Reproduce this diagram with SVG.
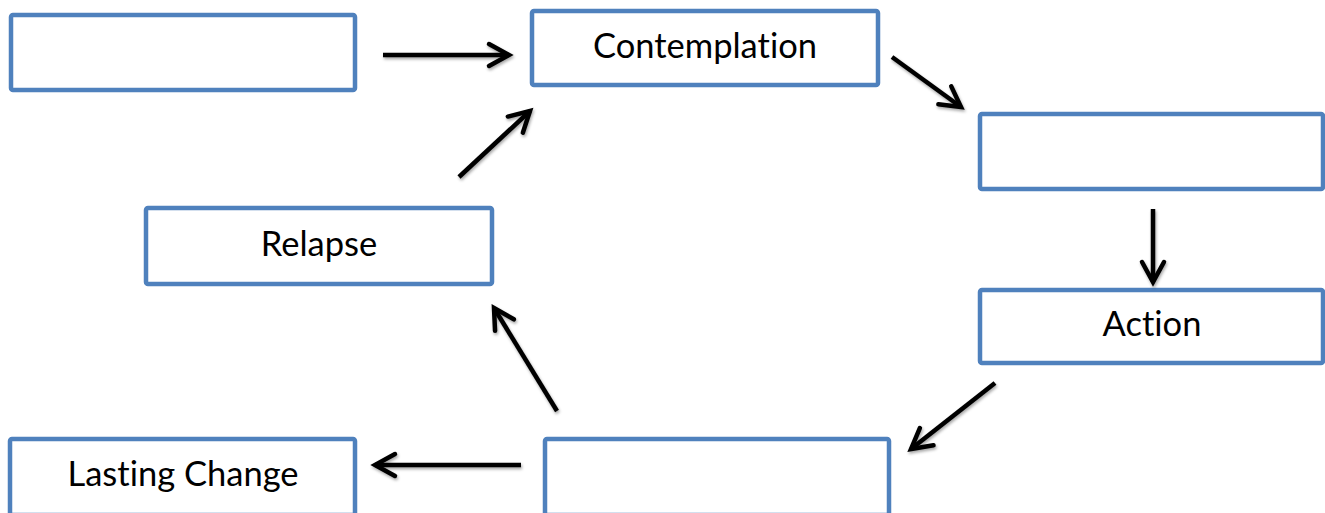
<svg xmlns="http://www.w3.org/2000/svg" width="1325" height="513" viewBox="0 0 1325 513">
<style>
.box{fill:#fff;stroke:#4f81bd;stroke-width:4.5}
.lbl{font-family:Lato,"Liberation Sans",sans-serif;font-size:34.5px;fill:#000;text-anchor:middle;font-variant-ligatures:none}
.arr{stroke:#000;stroke-width:4.5;fill:none;marker-end:url(#head);filter:url(#sh)}
</style>
<defs>
<filter id="sh" filterUnits="userSpaceOnUse" x="0" y="0" width="1325" height="513"><feDropShadow dx="1" dy="2" stdDeviation="1.5" flood-color="#000" flood-opacity="0.35"/></filter>
<marker id="head" markerUnits="userSpaceOnUse" viewBox="-30 -15 40 30" markerWidth="40" markerHeight="30" refX="0" refY="0" orient="auto" overflow="visible">
<path d="M-20,-11 L0,0 L-20,11" fill="none" stroke="#000" stroke-width="4.5" stroke-linecap="round" stroke-linejoin="miter"/>
</marker>
</defs>
<g id="precontemplation"><rect class="box" x="11" y="15" width="344" height="75" rx="2"/></g>
<g id="contemplation"><rect class="box" x="532" y="11" width="346" height="74" rx="2"/><text class="lbl" x="705" y="58">Contemplation</text></g>
<g id="preparation"><rect class="box" x="980" y="114" width="343" height="75" rx="2"/></g>
<g id="action"><rect class="box" x="980" y="290" width="343" height="73" rx="2"/><text class="lbl" x="1152" y="336">Action</text></g>
<g id="maintenance"><rect class="box" x="545" y="439" width="344" height="76" rx="2"/></g>
<g id="lasting-change"><rect class="box" x="10" y="439" width="345" height="76" rx="2"/><text class="lbl" x="183" y="486">Lasting Change</text></g>
<g id="relapse"><rect class="box" x="146" y="208" width="346" height="76" rx="2"/><text class="lbl" x="319" y="256">Relapse</text></g>
<g id="connectors">
<line class="arr" x1="383" y1="55" x2="509" y2="55"/>
<line class="arr" x1="892" y1="57" x2="961" y2="107"/>
<line class="arr" x1="1153" y1="209" x2="1153" y2="282"/>
<line class="arr" x1="995" y1="383" x2="911" y2="449"/>
<line class="arr" x1="521" y1="465" x2="375" y2="465"/>
<line class="arr" x1="557" y1="411" x2="494" y2="308"/>
<line class="arr" x1="459" y1="177" x2="530" y2="111"/>
</g>
</svg>
